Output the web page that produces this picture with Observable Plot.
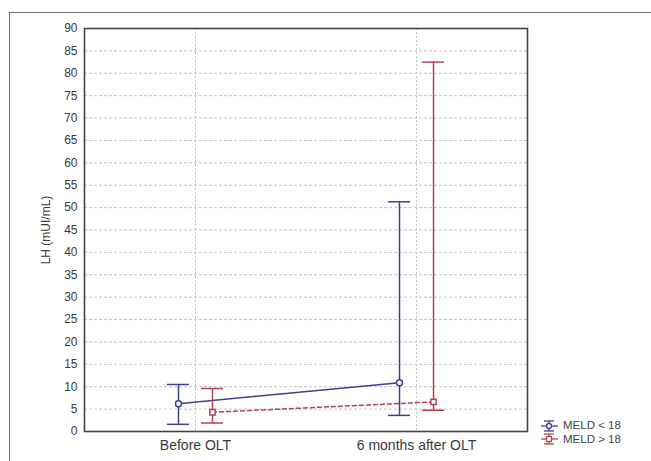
<!DOCTYPE html>
<html>
<head>
<meta charset="utf-8">
<script src="https://cdn.jsdelivr.net/npm/d3@7"></script>
<script src="https://cdn.jsdelivr.net/npm/@observablehq/plot@0.6"></script>
<style>
  html, body { margin: 0; padding: 0; background: #fff; }
  #wrap { position: relative; width: 651px; height: 461px; overflow: hidden; font-family: "Liberation Sans", Arial, sans-serif; }
  #outer { position: absolute; left: 9px; top: 12px; width: 700px; height: 500px; border: 1px solid #6a6a6a; box-sizing: border-box; }
  #chart { position: absolute; left: 0; top: 0; }
  #legend { position: absolute; left: 541px; top: 419px; font-size: 11.5px; color: #444; line-height: 13px; }
  #legend div { display: flex; align-items: center; height: 13.5px; }
  #legend svg { margin-right: 5px; }
</style>
</head>
<body>
<div id="wrap">
  <div id="outer"></div>
  <div id="chart"></div>
  <div id="legend"></div>
</div>
<script>
// Data
const timepoints = ["Before OLT", "6 months after OLT"];
const groups = ["MELD < 18", "MELD > 18"];
const meldLowMean = [6.2, 10.9];
const meldLowLower = [1.6, 3.6];
const meldLowUpper = [10.5, 51.3];
const meldHighMean = [4.3, 6.6];
const meldHighLower = [1.9, 4.75];
const meldHighUpper = [9.6, 82.5];
const yTicks = [0,5,10,15,20,25,30,35,40,45,50,55,60,65,70,75,80,85,90];

const blue = "#3c4192";
const red = "#b0464c";

const low = timepoints.map((t, i) => ({t, mean: meldLowMean[i], lo: meldLowLower[i], hi: meldLowUpper[i]}));
const high = timepoints.map((t, i) => ({t, mean: meldHighMean[i], lo: meldHighLower[i], hi: meldHighUpper[i]}));

const off = 17;

function series(data, color, dx, dash, symbol) {
  return [
    Plot.ruleX(data, {x: "t", y1: "lo", y2: "hi", stroke: color, strokeWidth: 1.5, dx}),
    Plot.tickY(data, {x: "t", y: "hi", stroke: color, strokeWidth: 1.5, dx}),
    Plot.tickY(data, {x: "t", y: "lo", stroke: color, strokeWidth: 1.5, dx}),
    Plot.line(data, {x: "t", y: "mean", stroke: color, strokeWidth: 1.5, dx, strokeDasharray: dash}),
    Plot.dot(data, {x: "t", y: "mean", stroke: color, fill: "white", strokeWidth: 1.5, r: 3, symbol, dx})
  ];
}

const chart = Plot.plot({
  width: 651,
  height: 461,
  marginLeft: 84,
  marginRight: 124,
  marginTop: 28,
  marginBottom: 30,
  style: {fontFamily: "Liberation Sans, Arial, sans-serif", fontSize: "12px", color: "#3a3a3a", background: "transparent"},
  x: {type: "band", domain: timepoints, paddingInner: 0.9009, paddingOuter: 0.45045},
  y: {domain: [0, 90]},
  marks: [
    Plot.gridY(yTicks, {stroke: "#c2c2c2", strokeOpacity: 1, strokeDasharray: "3,2"}),
    Plot.gridX(timepoints, {stroke: "#c2c2c2", strokeOpacity: 1, strokeDasharray: "2,2"}),
    ...series(low, blue, -off, null, "circle"),
    ...series(high, red, off, "4,3", "square"),
    Plot.frame({stroke: "#444", strokeWidth: 1.6}),
    Plot.axisY({ticks: yTicks, tickSize: 0, tickPadding: 7, fontSize: 12, label: "LH (mUI/mL)", labelAnchor: "center", labelOffset: 43, labelArrow: "none"}),
    Plot.axisX({tickSize: 0, tickPadding: 9, fontSize: 14, label: null})
  ]
});
document.getElementById("chart").appendChild(chart);

// Legend
const legend = document.getElementById("legend");
[[groups[0], blue, "circle"], [groups[1], red, "square"]].forEach(([name, color, sym]) => {
  const row = document.createElement("div");
  const marker = sym === "circle"
    ? `<circle cx="8" cy="6" r="2.5" fill="white" stroke="${color}" stroke-width="1.3"/>`
    : `<rect x="5.5" y="3.5" width="5" height="5" fill="white" stroke="${color}" stroke-width="1.3"/>`;
  row.innerHTML = `<svg width="17" height="12"><line x1="3" x2="13" y1="1" y2="1" stroke="${color}" stroke-width="1.3"/><line x1="3" x2="13" y1="11" y2="11" stroke="${color}" stroke-width="1.3"/><line x1="8" x2="8" y1="1" y2="11" stroke="${color}" stroke-width="1.3"/><line x1="0" x2="17" y1="6" y2="6" stroke="${color}" stroke-width="1.3"/>${marker}</svg><span>${name}</span>`;
  legend.appendChild(row);
});
</script>
</body>
</html>
